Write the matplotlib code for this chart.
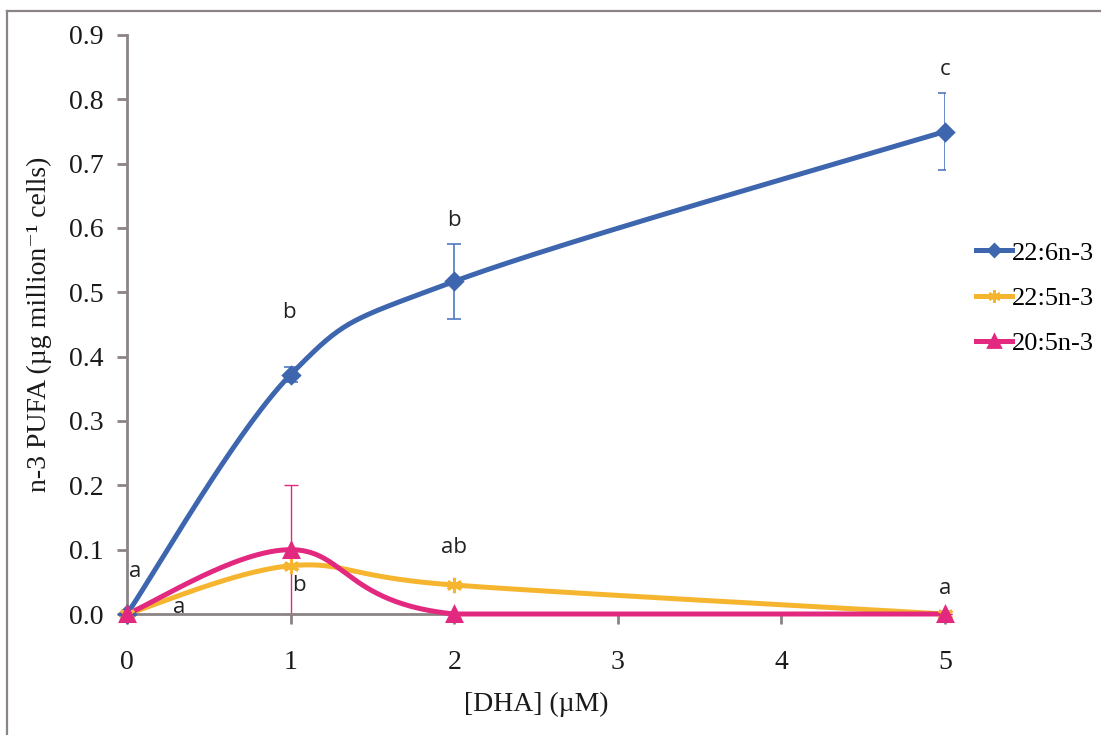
import numpy as np
import matplotlib
matplotlib.use('Agg')
import matplotlib.pyplot as plt
from matplotlib.lines import Line2D

# DHA supplementation (uM) and n-3 PUFA content (ug per million cells)
dha = [0, 1, 2, 5]
series_names = ['22:6n-3', '22:5n-3', '20:5n-3']
dpa_226 = [0.0, 0.372, 0.517, 0.750]
dpa_226_err = [0.0, 0.012, 0.058, 0.060]
dpa_225 = [0.0, 0.075, 0.045, 0.0]
epa_205 = [0.0, 0.100, 0.0, 0.0]
epa_205_err = [0.0, 0.100, 0.0, 0.0]

# significance letters: (text, x, y)
letters = [('a', 0.05, 0.066), ('a', 0.32, 0.010),
           ('b', 0.99, 0.468), ('b', 1.05, 0.045),
           ('b', 2.0, 0.612), ('ab', 2.0, 0.103),
           ('c', 5.0, 0.846), ('a', 5.0, 0.040)]

BLUE = '#3D66AF'
ORANGE = '#F6B52F'
PINK = '#E2287F'
AXIS = '#8C8484'
SERIF = 'Liberation Serif'


def smooth(ax, xs, ys, n=60):
    """Bezier smoothing in screen space (spreadsheet-style smoothed line)."""
    pts = ax.transData.transform(np.column_stack([xs, ys]))
    out = []
    for i in range(len(pts) - 1):
        p0 = pts[max(i - 1, 0)]
        p1 = pts[i]
        p2 = pts[i + 1]
        p3 = pts[min(i + 2, len(pts) - 1)]
        c1 = p1 + (p2 - p0) / 6.0
        c2 = p2 - (p3 - p1) / 6.0
        t = np.linspace(0, 1, n)[:, None]
        seg = ((1 - t) ** 3 * p1 + 3 * (1 - t) ** 2 * t * c1
               + 3 * (1 - t) * t ** 2 * c2 + t ** 3 * p2)
        out.append(seg if i == 0 else seg[1:])
    out = np.vstack(out)
    back = ax.transData.inverted().transform(out)
    # the plot area floor is zero
    return back[:, 0], np.maximum(back[:, 1], 0.0)


fig = plt.figure(figsize=(11.01, 7.35), dpi=100)
ax = fig.add_axes([127 / 1101, 121 / 735, 818 / 1101, 579 / 735])
ax.set_xlim(0, 5)
ax.set_ylim(0, 0.9)

# outer frame (top and left edges visible)
fig.add_artist(Line2D([7 / 1101, 1.0], [1 - 11 / 735] * 2, color=AXIS, lw=1.6))
fig.add_artist(Line2D([7 / 1101] * 2, [0.0, 1 - 11 / 735], color=AXIS, lw=1.6))

# error bars
ax.errorbar(dha, dpa_226, yerr=dpa_226_err, fmt='none', ecolor='#5077C4',
            elinewidth=1.2, capsize=5, capthick=1.2, zorder=2)
ax.errorbar(dha, epa_205, yerr=epa_205_err, fmt='none', ecolor=PINK,
            elinewidth=1.0, capsize=5, capthick=1.0, zorder=2, clip_on=False)

styles = [(dpa_226, BLUE, 'D', 8), (dpa_225, ORANGE, (6, 2, 0), 11),
          (epa_205, PINK, '^', 10)]
handles = []
for (vals, color, marker, ms), name in zip(styles, series_names):
    sx, sy = smooth(ax, dha, vals)
    ax.plot(sx, sy, color=color, lw=3.6, solid_capstyle='round', zorder=3,
            clip_on=False)
    ax.plot(dha, vals, linestyle='none', marker=marker, ms=ms, color=color,
            mec=color, mew=2.2, zorder=4, clip_on=False)
    handles.append(Line2D([], [], color=color, lw=3.6, marker=marker,
                          ms=ms * 0.8, mec=color, mew=2.0))

for txt, x, y in letters:
    ax.text(x, y, txt, ha='center', va='center', fontsize=16,
            family='Open Sans', color='#222222', zorder=5)

for side in ['top', 'right']:
    ax.spines[side].set_visible(False)
for side in ['left', 'bottom']:
    ax.spines[side].set_color(AXIS)
    ax.spines[side].set_linewidth(2)
ax.set_xticks(range(0, 6))
ax.set_yticks(np.arange(0, 0.91, 0.1))
ax.set_yticklabels([f'{v:.1f}' for v in np.arange(0, 0.91, 0.1)])
ax.tick_params(axis='both', colors=AXIS, width=2, length=7, direction='out',
               labelcolor='#1a1a1a', labelsize=20)
ax.tick_params(axis='x', pad=19)
ax.tick_params(axis='y', pad=10)
for lab in ax.get_xticklabels() + ax.get_yticklabels():
    lab.set_family(SERIF)

ax.set_xlabel('[DHA] (\u00b5M)', fontsize=20, family=SERIF, labelpad=12,
              color='#1a1a1a')
ax.set_ylabel('n-3 PUFA (\u00b5g million\u207b\u00b9 cells)', fontsize=20,
              family=[SERIF, 'DejaVu Serif'], labelpad=12, color='#1a1a1a')

leg = fig.legend(handles, series_names, loc='center left',
                 bbox_to_anchor=(976 / 1101, 1 - 298 / 735), frameon=False,
                 prop={'family': SERIF, 'size': 19}, handlelength=1.35,
                 handletextpad=0.0, labelspacing=0.82, borderaxespad=0,
                 borderpad=0)

fig.savefig('out.png', dpi=100)
